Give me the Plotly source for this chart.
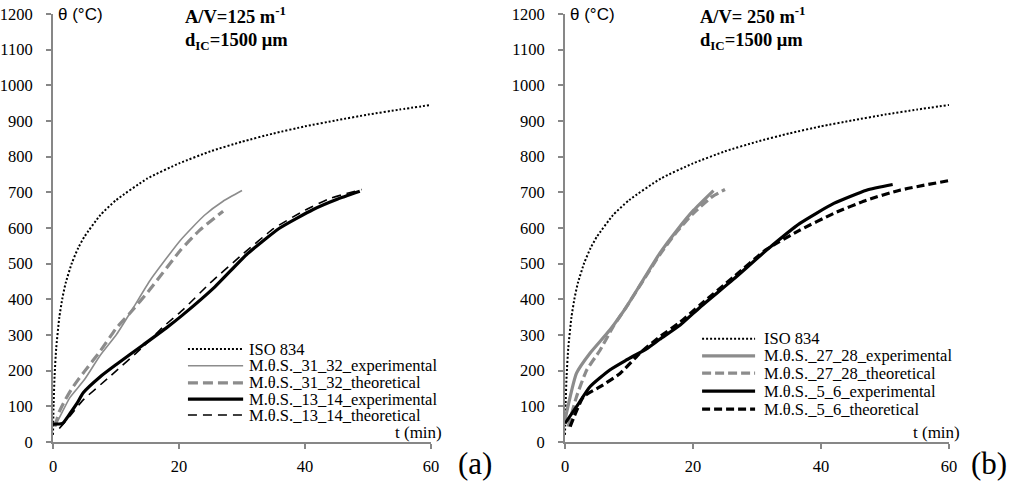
import plotly.graph_objects as go

# ---------------- data ----------------
iso_t = [0, 0.1, 0.25, 0.5, 1, 1.5, 2, 3, 4, 5, 7.5, 10, 15, 20, 25, 30, 35, 40, 45, 50, 55, 60]
iso_T = [20, 108, 185, 261, 349, 404, 445, 502, 544, 576, 636, 678, 739, 781, 815, 842, 865, 885, 902, 918, 932, 945]

# panel (a)
a_exp1_t = [0.5, 1.5, 2.7, 5.0, 7.5, 10.1, 12.7, 15.4, 20.2, 24.0, 27.0, 30.0]
a_exp1_T = [50, 85, 125, 175, 243, 302, 375, 453, 565, 635, 675, 705]
a_th1_t = [0.3, 1.0, 2.0, 3.0, 4.0, 5.0, 7.5, 10.0, 12.2, 15.4, 20.2, 23.3, 27.0]
a_th1_T = [43, 85, 120, 150, 175, 198, 255, 318, 361, 428, 537, 594, 647]
a_exp2_t = [0, 1.5, 2.7, 3.8, 4.8, 7.5, 10.1, 14.3, 18.0, 20.5, 25.7, 30.7, 36.0, 41.3, 45.0, 48.7]
a_exp2_T = [50, 52, 80, 108, 138, 183, 218, 272, 320, 355, 435, 525, 600, 652, 680, 703]
a_th2_t = [1.0, 1.5, 2.8, 4.8, 9.0, 14.3, 17.5, 20.7, 24.9, 30.2, 35.0, 40.0, 44.0, 49.0]
a_th2_T = [38, 48, 75, 118, 183, 267, 323, 372, 445, 528, 598, 650, 683, 708]

# panel (b)
b_exp1_t = [0, 1.8, 3.9, 7.0, 9.6, 12.2, 14.8, 17.5, 20.1, 23.2]
b_exp1_T = [62, 193, 249, 314, 379, 454, 529, 594, 650, 705]
b_th1_t = [0.5, 1.8, 3.4, 5.5, 7.5, 9.6, 12.2, 14.8, 17.5, 20.1, 23.0, 25.0]
b_th1_T = [43, 127, 202, 258, 323, 379, 452, 525, 590, 642, 688, 708]
b_exp2_t = [0, 1.8, 3.9, 7.0, 9.6, 12.8, 14.8, 18.0, 21.1, 26.3, 31.5, 36.7, 42.0, 47.1, 51.2]
b_exp2_T = [52, 99, 155, 202, 230, 262, 288, 328, 378, 456, 538, 613, 669, 706, 722]
b_th2_t = [0.8, 2.9, 5.5, 8.6, 11.7, 14.8, 18.0, 21.1, 26.3, 31.5, 36.7, 42.0, 47.1, 52.3, 60.0]
b_th2_T = [43, 127, 155, 192, 249, 295, 336, 384, 462, 540, 594, 641, 678, 706, 733]

legend_a = ["ISO 834", "M.θ.S._31_32_experimental", "M.θ.S._31_32_theoretical",
            "M.θ.S._13_14_experimental", "M.θ.S._13_14_theoretical"]
legend_b = ["ISO 834", "M.θ.S._27_28_experimental", "M.θ.S._27_28_theoretical",
            "M.θ.S._5_6_experimental", "M.θ.S._5_6_theoretical"]

x_ticks = [0, 20, 40, 60]
y_ticks = list(range(0, 1201, 100))

# ---------------- styles ----------------
GREY = "#8c8c8c"
SERIF = "Liberation Serif, Times New Roman, serif"
SANS = "Liberation Sans, Arial, sans-serif"
AXC = "#878787"

styles_a = [
    dict(color="black", width=2, dash="2px,2px"),
    dict(color=GREY, width=1.6, dash="solid"),
    dict(color=GREY, width=3.2, dash="10px,5px"),
    dict(color="black", width=3.2, dash="solid"),
    dict(color="black", width=1.6, dash="9px,6px"),
]
styles_b = [
    dict(color="black", width=2, dash="2px,2px"),
    dict(color=GREY, width=3.2, dash="solid"),
    dict(color=GREY, width=3.2, dash="9px,4px"),
    dict(color="black", width=3.2, dash="solid"),
    dict(color="black", width=3.2, dash="8px,4px"),
]

series_a = [(iso_t, iso_T), (a_exp1_t, a_exp1_T), (a_th1_t, a_th1_T), (a_exp2_t, a_exp2_T), (a_th2_t, a_th2_T)]
series_b = [(iso_t, iso_T), (b_exp1_t, b_exp1_T), (b_th1_t, b_th1_T), (b_exp2_t, b_exp2_T), (b_th2_t, b_th2_T)]

fig = go.Figure()
for (t, T), st, nm in zip(series_a, styles_a, legend_a):
    fig.add_trace(go.Scatter(x=t, y=T, mode="lines", line=dict(shape="spline", smoothing=0.5, **st),
                             name=nm, showlegend=False, xaxis="x", yaxis="y"))
for (t, T), st, nm in zip(series_b, styles_b, legend_b):
    fig.add_trace(go.Scatter(x=t, y=T, mode="lines", line=dict(shape="spline", smoothing=0.5, **st),
                             name=nm, showlegend=False, xaxis="x2", yaxis="y2"))

W, H = 1016, 483
ytop, ybot = 14, 442
dom_y = [1 - ybot / H, 1 - ytop / H]
dom_xa = [53 / W, 431 / W]
dom_xb = [565 / W, 949 / W]

axis_common = dict(showline=True, linecolor=AXC, linewidth=2, ticks="outside", tickcolor=AXC,
                   ticklen=5, tickwidth=1.5, showgrid=False, zeroline=False, automargin=False,
                   tickfont=dict(family=SERIF, size=16.5, color="black"))
x_common = dict(range=[0, 60], tickvals=x_ticks, ticklabelstandoff=3, **axis_common)
y_common = dict(range=[0, 1200], tickvals=y_ticks, ticklabelstandoff=10, **axis_common)

fig.update_layout(
    template="none",
    width=W, height=H, margin=dict(l=0, r=0, t=0, b=0, pad=0, autoexpand=False),
    paper_bgcolor="white", plot_bgcolor="white",
    xaxis=dict(domain=dom_xa, anchor="y", **x_common),
    yaxis=dict(domain=dom_y, anchor="x", **y_common),
    xaxis2=dict(domain=dom_xb, anchor="y2", **x_common),
    yaxis2=dict(domain=dom_y, anchor="x2", **y_common),
    showlegend=False,
)

shapes = []
annots = []

def add_panel(xr, yr, names, styles, rows, x0, x1, xt):
    for nm, st, ry in zip(names, styles, rows):
        shapes.append(dict(type="line", xref=xr + " domain", yref=yr + " domain",
                           x0=x0, x1=x1, y0=ry, y1=ry,
                           line=dict(color=st["color"], width=st["width"], dash=st["dash"])))
        annots.append(dict(text=nm, xref=xr + " domain", yref=yr + " domain", x=xt, y=ry,
                           xanchor="left", yanchor="middle", showarrow=False,
                           font=dict(family=SERIF, size=16.5, color="black")))

add_panel("x", "y", legend_a, styles_a, [0.217, 0.178, 0.138, 0.100, 0.063], 0.357, 0.503, 0.512)
add_panel("x2", "y2", legend_b, styles_b, [0.241, 0.201, 0.161, 0.119, 0.077], 0.357, 0.495, 0.512)

def pa(x, y, text, font, xanchor="left", yanchor="middle"):
    annots.append(dict(text=text, xref="paper", yref="paper", x=x / W, y=1 - y / H,
                       xanchor=xanchor, yanchor=yanchor, showarrow=False, font=font))

for x0 in (56, 568):
    pa(x0, 14, "θ (°C)", dict(family=SANS, size=17, color="black"))
pa(444, 432, "t (min)", dict(family=SERIF, size=17, color="black"), xanchor="right")
pa(962, 432, "t (min)", dict(family=SERIF, size=17, color="black"), xanchor="right")

bold = dict(family=SERIF, size=18.5, color="black")
pa(183, 15, "<b>A/V=125 m<sup>-1</sup></b>", bold)
pa(183, 42, "<b>d<sub>IC</sub>=1500 μm</b>", bold)
pa(698, 15, "<b>A/V= 250 m<sup>-1</sup></b>", bold)
pa(698, 42, "<b>d<sub>IC</sub>=1500 μm</b>", bold)

pa(456, 463, "(a)", dict(family=SERIF, size=31, color="black"))
pa(969, 463, "(b)", dict(family=SERIF, size=31, color="black"))

fig.update_layout(shapes=shapes, annotations=annots)
fig.write_html("out.html")
